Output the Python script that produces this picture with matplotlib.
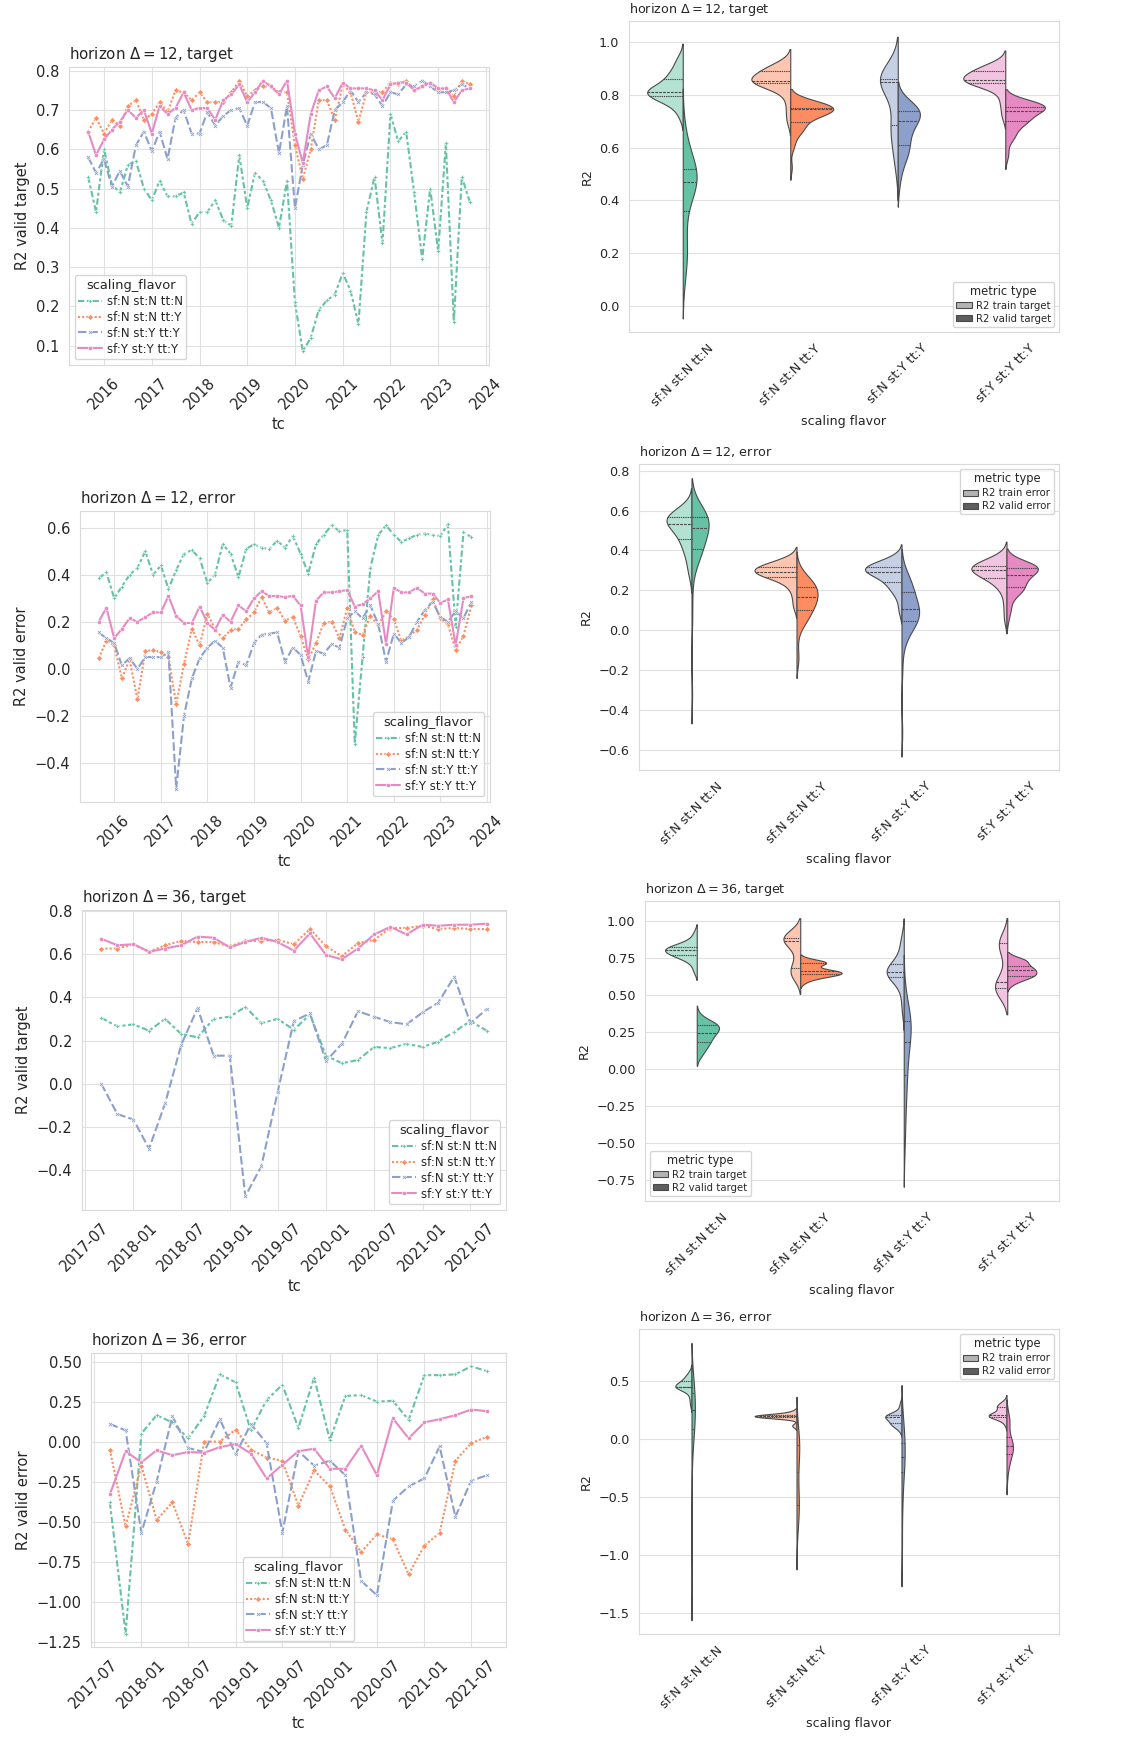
import numpy as np
import pandas as pd
import matplotlib
matplotlib.use("Agg")
import matplotlib.pyplot as plt
import matplotlib.dates as mdates
from matplotlib.patches import Patch
from matplotlib.collections import PolyCollection
import seaborn as sns

sns.set_style("whitegrid", {"grid.color": ".88", "axes.edgecolor": ".85"})

# ---------------------------------------------------------------- data
flavors = ["sf:N st:N tt:N", "sf:N st:N tt:Y", "sf:N st:Y tt:Y", "sf:Y st:Y tt:Y"]

tc_12 = pd.date_range("2015-09-01", periods=49, freq="2MS")
tc_36 = pd.date_range("2017-09-01", periods=25, freq="2MS")

# horizon 12, R2 valid target
v12t_nnn = [0.53, 0.44, 0.60, 0.51, 0.49, 0.56, 0.57, 0.50, 0.47, 0.52, 0.48, 0.48, 0.49,
            0.41, 0.44, 0.44, 0.47, 0.42, 0.405, 0.585, 0.45, 0.54, 0.52, 0.47, 0.40, 0.52,
            0.21, 0.085, 0.12, 0.19, 0.215, 0.23, 0.285, 0.24, 0.155, 0.44, 0.53, 0.36, 0.69,
            0.62, 0.645, 0.49, 0.32, 0.50, 0.34, 0.615, 0.16, 0.53, 0.465]
v12t_nny = [0.645, 0.68, 0.64, 0.675, 0.66, 0.71, 0.725, 0.675, 0.69, 0.72, 0.695, 0.75, 0.745,
            0.725, 0.745, 0.72, 0.72, 0.72, 0.745, 0.775, 0.735, 0.75, 0.76, 0.76, 0.745, 0.745,
            0.61, 0.525, 0.60, 0.725, 0.725, 0.675, 0.765, 0.745, 0.67, 0.745, 0.745, 0.745, 0.77,
            0.765, 0.775, 0.75, 0.76, 0.77, 0.75, 0.755, 0.735, 0.775, 0.765]
v12t_nyy = [0.58, 0.54, 0.575, 0.505, 0.545, 0.505, 0.61, 0.645, 0.595, 0.645, 0.575, 0.68, 0.70,
            0.64, 0.64, 0.695, 0.66, 0.685, 0.70, 0.705, 0.66, 0.72, 0.72, 0.705, 0.59, 0.71,
            0.45, 0.56, 0.64, 0.60, 0.61, 0.70, 0.72, 0.75, 0.72, 0.745, 0.74, 0.71, 0.745,
            0.74, 0.765, 0.76, 0.775, 0.76, 0.745, 0.745, 0.75, 0.765, 0.755]
v12t_yyy = [0.645, 0.585, 0.625, 0.65, 0.67, 0.70, 0.68, 0.70, 0.64, 0.71, 0.69, 0.705, 0.745,
            0.70, 0.705, 0.705, 0.675, 0.725, 0.74, 0.765, 0.72, 0.745, 0.775, 0.76, 0.74, 0.775,
            0.64, 0.565, 0.69, 0.75, 0.76, 0.73, 0.77, 0.755, 0.755, 0.755, 0.75, 0.725, 0.765,
            0.77, 0.77, 0.75, 0.76, 0.77, 0.755, 0.755, 0.72, 0.75, 0.755]

# horizon 12, R2 valid error
v12e_nnn = [0.385, 0.41, 0.30, 0.35, 0.40, 0.43, 0.50, 0.40, 0.44, 0.34, 0.42, 0.49, 0.505,
            0.47, 0.365, 0.40, 0.53, 0.49, 0.39, 0.51, 0.53, 0.515, 0.51, 0.545, 0.515, 0.565,
            0.49, 0.405, 0.53, 0.57, 0.61, 0.585, 0.59, -0.32, 0.05, 0.43, 0.57, 0.61, 0.57,
            0.54, 0.555, 0.57, 0.575, 0.57, 0.565, 0.615, 0.18, 0.58, 0.56]
v12e_nny = [0.045, 0.12, 0.10, -0.04, 0.04, -0.13, 0.075, 0.08, 0.07, 0.05, -0.15, 0.02, 0.17,
            0.10, 0.235, 0.17, 0.13, 0.165, 0.17, 0.21, 0.24, 0.305, 0.24, 0.26, 0.205, 0.22,
            0.14, 0.04, 0.11, 0.195, 0.20, 0.13, 0.26, 0.155, 0.145, 0.225, 0.185, 0.245, 0.21,
            0.12, 0.14, 0.165, 0.23, 0.295, 0.215, 0.19, 0.08, 0.14, 0.27]
v12e_nyy = [0.155, 0.13, 0.11, 0.015, 0.045, 0.0, 0.05, 0.05, 0.05, 0.07, -0.51, -0.20, -0.04,
            0.045, 0.09, 0.12, 0.09, -0.08, 0.03, 0.015, 0.11, 0.145, 0.15, 0.155, 0.03, 0.09,
            0.06, -0.055, 0.075, 0.065, 0.105, 0.09, 0.215, 0.245, 0.215, 0.27, 0.19, 0.03, 0.15,
            0.11, 0.135, 0.20, 0.25, 0.285, 0.22, 0.20, 0.245, 0.215, 0.285]
v12e_yyy = [0.20, 0.26, 0.13, 0.17, 0.215, 0.20, 0.22, 0.24, 0.24, 0.31, 0.225, 0.195, 0.195,
            0.265, 0.195, 0.165, 0.23, 0.20, 0.27, 0.245, 0.30, 0.33, 0.31, 0.31, 0.305, 0.31,
            0.27, 0.05, 0.29, 0.325, 0.325, 0.33, 0.335, 0.265, 0.275, 0.30, 0.33, 0.105, 0.345,
            0.325, 0.325, 0.345, 0.32, 0.32, 0.28, 0.295, 0.10, 0.30, 0.31]

# horizon 36, R2 valid target
v36t_nnn = [0.305, 0.265, 0.275, 0.245, 0.30, 0.23, 0.215, 0.30, 0.31, 0.355, 0.28, 0.30, 0.25,
            0.32, 0.13, 0.095, 0.11, 0.17, 0.165, 0.185, 0.17, 0.195, 0.24, 0.29, 0.245]
v36t_nny = [0.625, 0.625, 0.645, 0.61, 0.64, 0.66, 0.655, 0.655, 0.635, 0.66, 0.66, 0.665, 0.645,
            0.715, 0.635, 0.59, 0.65, 0.665, 0.72, 0.72, 0.73, 0.715, 0.72, 0.715, 0.715]
v36t_nyy = [0.0, -0.14, -0.165, -0.30, -0.09, 0.18, 0.35, 0.13, 0.13, -0.52, -0.38, -0.04, 0.29,
            0.325, 0.105, 0.185, 0.335, 0.31, 0.285, 0.275, 0.33, 0.375, 0.495, 0.28, 0.345]
v36t_yyy = [0.67, 0.64, 0.645, 0.61, 0.625, 0.64, 0.68, 0.675, 0.63, 0.655, 0.675, 0.655, 0.615,
            0.695, 0.595, 0.575, 0.625, 0.69, 0.725, 0.69, 0.735, 0.73, 0.735, 0.735, 0.74]

# horizon 36, R2 valid error
v36e_nnn = [-0.38, -1.20, 0.05, 0.165, 0.12, 0.02, 0.16, 0.42, 0.37, 0.07, 0.26, 0.355, 0.085,
            0.40, 0.01, 0.285, 0.29, 0.25, 0.255, 0.135, 0.415, 0.415, 0.42, 0.47, 0.44]
v36e_nny = [-0.05, -0.53, -0.15, -0.49, -0.38, -0.64, 0.0, 0.0, 0.075, -0.05, -0.10, -0.12, -0.40,
            -0.18, -0.28, -0.55, -0.69, -0.58, -0.61, -0.83, -0.65, -0.57, -0.12, -0.01, 0.03]
v36e_nyy = [0.11, 0.07, -0.57, -0.25, 0.16, -0.04, -0.065, 0.14, -0.08, 0.11, -0.01, -0.57, -0.06,
            -0.15, -0.12, -0.21, -0.87, -0.96, -0.37, -0.28, -0.23, -0.03, -0.47, -0.245, -0.21]
v36e_yyy = [-0.33, -0.06, -0.13, -0.055, -0.085, -0.065, -0.07, -0.035, -0.015, -0.075, -0.23,
            -0.145, -0.06, -0.045, -0.17, -0.17, -0.025, -0.21, 0.145, 0.02, 0.12, 0.14, 0.165,
            0.20, 0.19]

# train-side values (only visible in the violins)
t12t_nnn = [0.72, 0.75, 0.77, 0.78, 0.785, 0.79, 0.795, 0.80, 0.805, 0.81, 0.81, 0.812, 0.812,
            0.815, 0.82, 0.825, 0.83, 0.84, 0.86, 0.865, 0.87, 0.88, 0.90, 0.92, 0.94]
t12t_nny = [0.70, 0.74, 0.78, 0.81, 0.83, 0.84, 0.845, 0.845, 0.848, 0.85, 0.85, 0.85, 0.852,
            0.855, 0.86, 0.865, 0.87, 0.88, 0.89, 0.89, 0.895, 0.90, 0.905, 0.91, 0.92]
t12t_nyy = [0.52, 0.57, 0.60, 0.63, 0.66, 0.68, 0.685, 0.70, 0.74, 0.80, 0.83, 0.84, 0.847,
            0.85, 0.85, 0.852, 0.855, 0.858, 0.86, 0.865, 0.87, 0.875, 0.88, 0.89, 0.90]
t12t_yyy = [0.72, 0.76, 0.79, 0.82, 0.835, 0.84, 0.845, 0.848, 0.85, 0.852, 0.855, 0.856, 0.857,
            0.86, 0.865, 0.87, 0.875, 0.88, 0.89, 0.89, 0.895, 0.90, 0.905, 0.91, 0.92]

t12e_nnn = [0.28, 0.33, 0.37, 0.40, 0.42, 0.44, 0.456, 0.47, 0.49, 0.50, 0.515, 0.525, 0.531,
            0.54, 0.545, 0.55, 0.555, 0.56, 0.566, 0.57, 0.575, 0.58, 0.59, 0.60, 0.62]
t12e_nny = [0.12, 0.17, 0.21, 0.23, 0.25, 0.26, 0.267, 0.275, 0.28, 0.285, 0.288, 0.29, 0.29,
            0.295, 0.30, 0.305, 0.31, 0.315, 0.319, 0.32, 0.325, 0.33, 0.34, 0.35, 0.36]
t12e_nyy = [0.10, 0.16, 0.19, 0.21, 0.225, 0.235, 0.244, 0.26, 0.275, 0.285, 0.29, 0.292, 0.294,
            0.30, 0.305, 0.308, 0.31, 0.313, 0.316, 0.32, 0.325, 0.33, 0.34, 0.35, 0.365]
t12e_yyy = [0.06, 0.13, 0.19, 0.22, 0.24, 0.25, 0.26, 0.27, 0.28, 0.29, 0.295, 0.30, 0.302,
            0.305, 0.31, 0.312, 0.315, 0.318, 0.322, 0.325, 0.33, 0.335, 0.345, 0.355, 0.37]

t36t_nnn = [0.66, 0.70, 0.73, 0.745, 0.755, 0.76, 0.768, 0.775, 0.78, 0.785, 0.79, 0.795, 0.802,
            0.805, 0.81, 0.812, 0.815, 0.82, 0.824, 0.83, 0.835, 0.845, 0.86, 0.88, 0.92]
t36t_nny = [0.62, 0.63, 0.64, 0.645, 0.65, 0.66, 0.68, 0.70, 0.72, 0.76, 0.80, 0.84, 0.867,
            0.87, 0.872, 0.875, 0.878, 0.88, 0.885, 0.887, 0.89, 0.892, 0.895, 0.90, 0.905]
t36t_nyy = [0.38, 0.45, 0.52, 0.56, 0.59, 0.61, 0.622, 0.63, 0.64, 0.645, 0.65, 0.655, 0.658,
            0.66, 0.665, 0.67, 0.68, 0.69, 0.707, 0.72, 0.74, 0.77, 0.81, 0.85, 0.90]
t36t_yyy = [0.52, 0.525, 0.53, 0.535, 0.54, 0.542, 0.545, 0.55, 0.555, 0.56, 0.57, 0.58, 0.59,
            0.62, 0.68, 0.76, 0.80, 0.82, 0.85, 0.85, 0.855, 0.86, 0.86, 0.865, 0.87]

t36e_nnn = [0.30, 0.35, 0.39, 0.42, 0.44, 0.445, 0.45, 0.45, 0.452, 0.453, 0.454, 0.455, 0.455,
            0.46, 0.465, 0.47, 0.48, 0.49, 0.504, 0.51, 0.52, 0.53, 0.54, 0.56, 0.58]
t36e_nny = [0.11, 0.125, 0.18, 0.185, 0.188, 0.19, 0.19, 0.192, 0.194, 0.196, 0.197, 0.198, 0.20,
            0.201, 0.202, 0.203, 0.205, 0.207, 0.21, 0.211, 0.213, 0.215, 0.22, 0.23, 0.245]
t36e_nyy = [0.08, 0.10, 0.115, 0.125, 0.13, 0.135, 0.138, 0.145, 0.155, 0.165, 0.175, 0.185, 0.19,
            0.192, 0.195, 0.198, 0.20, 0.203, 0.207, 0.21, 0.215, 0.22, 0.24, 0.27, 0.31]
t36e_yyy = [0.13, 0.16, 0.18, 0.19, 0.192, 0.194, 0.196, 0.20, 0.203, 0.206, 0.208, 0.21, 0.213,
            0.216, 0.22, 0.23, 0.25, 0.265, 0.276, 0.28, 0.285, 0.29, 0.30, 0.31, 0.33]

# ---------------------------------------------------------------- styles
colors = ["#66c2a5", "#fc8d62", "#8da0cb", "#e78ac3"]
light = [tuple(0.5 + 0.5 * c for c in matplotlib.colors.to_rgb(h)) for h in colors]
dash_styles = [(3, 1.25, 1.5, 1.25), (1, 1), (4, 1.5), None]
marker_styles = ["P", "D", "X", "o"]

W, H = 1133, 1745
fig = plt.figure(figsize=(W / 100, H / 100), dpi=100)


def rect(l, t, r, b):
    return [l / W, 1 - b / H, (r - l) / W, (b - t) / H]


def line_panel(box, dates, series, ylabel, title, loc, yearly):
    ax = fig.add_axes(rect(*box))
    for name, vals, c, d, m in zip(flavors, series, colors, dash_styles, marker_styles):
        ln, = ax.plot(dates, vals, color=c, lw=1.5, marker=m, ms=3,
                      mec="white", mew=0.4, label=name)
        if d is not None:
            ln.set_dashes(d)
    if yearly:
        ax.xaxis.set_major_locator(mdates.YearLocator())
        ax.xaxis.set_major_formatter(mdates.DateFormatter("%Y"))
    else:
        ax.xaxis.set_major_locator(mdates.MonthLocator(bymonth=[1, 7]))
        ax.xaxis.set_major_formatter(mdates.DateFormatter("%Y-%m"))
    ax.tick_params(axis="x", labelrotation=45, labelsize=10.5)
    ax.tick_params(axis="y", labelsize=10.5)
    ax.set_xlabel("tc", fontsize=10.5)
    ax.set_ylabel(ylabel, fontsize=10.5)
    ax.set_title(title, loc="left", fontsize=10.8)
    ax.legend(title="scaling_flavor", loc=loc, fontsize=8.5, title_fontsize=9.4,
              borderpad=0.3, labelspacing=0.25, handletextpad=0.4)
    return ax


def violin_panel(box, train, valid, names, ylim, title, loc):
    rows = []
    for f, tr, va in zip(flavors, train, valid):
        rows += [(f, names[0], v) for v in tr]
        rows += [(f, names[1], v) for v in va]
    df = pd.DataFrame(rows, columns=["scaling flavor", "metric type", "R2"])
    ax = fig.add_axes(rect(*box))
    sns.violinplot(data=df, x="scaling flavor", y="R2", hue="metric type",
                   order=flavors, hue_order=names, split=True, inner="quart",
                   density_norm="area", common_norm=True,
                   palette=["#b4b4b4", "#5e5e5e"], linecolor="#4a4a4a",
                   linewidth=0.8, ax=ax)
    # train half gets a light tint, valid half the full flavor colour
    for coll in ax.collections:
        if not isinstance(coll, PolyCollection):
            continue
        xs = coll.get_paths()[0].vertices[:, 0]
        xm = xs.mean()
        k = int(round(xm))
        coll.set_facecolor(light[k] if xm < k else colors[k])
    if ax.get_legend() is not None:
        ax.get_legend().remove()
    handles = [Patch(facecolor="#b4b4b4", edgecolor="#4a4a4a", lw=0.8),
               Patch(facecolor="#5e5e5e", edgecolor="#4a4a4a", lw=0.8)]
    ax.legend(handles, names, title="metric type", loc=loc, fontsize=7.3,
              title_fontsize=8.3, handlelength=1.5, handleheight=0.55,
              borderpad=0.3, labelspacing=0.3, handletextpad=0.4)
    ax.set_ylim(*ylim)
    ax.set_xlim(-0.5, 3.5)
    ax.tick_params(axis="x", labelrotation=45, labelsize=9.2)
    ax.tick_params(axis="y", labelsize=9.2)
    ax.set_xlabel("scaling flavor", fontsize=9.1)
    ax.set_ylabel("R2", fontsize=9.1)
    ax.set_title(title, loc="left", fontsize=9.2)
    return ax


line_panel((69, 67, 489, 365), tc_12, [v12t_nnn, v12t_nny, v12t_nyy, v12t_yyy],
           "R2 valid target", r"horizon $\Delta = 12$, target", "lower left", True)
line_panel((80, 511, 490, 802), tc_12, [v12e_nnn, v12e_nny, v12e_nyy, v12e_yyy],
           "R2 valid error", r"horizon $\Delta = 12$, error", "lower right", True)
line_panel((82, 910, 506, 1210), tc_36, [v36t_nnn, v36t_nny, v36t_nyy, v36t_yyy],
           "R2 valid target", r"horizon $\Delta = 36$, target", "lower right", False)
line_panel((91, 1353, 506, 1647), tc_36, [v36e_nnn, v36e_nny, v36e_nyy, v36e_yyy],
           "R2 valid error", r"horizon $\Delta = 36$, error", "lower center", False)

violin_panel((629, 21, 1059, 332), [t12t_nnn, t12t_nny, t12t_nyy, t12t_yyy],
             [v12t_nnn, v12t_nny, v12t_nyy, v12t_yyy],
             ["R2 train target", "R2 valid target"], (-0.10, 1.08),
             r"horizon $\Delta = 12$, target", "lower right")
violin_panel((639, 464, 1059, 770), [t12e_nnn, t12e_nny, t12e_nyy, t12e_yyy],
             [v12e_nnn, v12e_nny, v12e_nyy, v12e_yyy],
             ["R2 train error", "R2 valid error"], (-0.70, 0.833),
             r"horizon $\Delta = 12$, error", "upper right")
violin_panel((645, 901, 1059, 1201), [t36t_nnn, t36t_nny, t36t_nyy, t36t_yyy],
             [v36t_nnn, v36t_nny, v36t_nyy, v36t_yyy],
             ["R2 train target", "R2 valid target"], (-0.892, 1.135),
             r"horizon $\Delta = 36$, target", "lower left")
violin_panel((639, 1329, 1059, 1634), [t36e_nnn, t36e_nny, t36e_nyy, t36e_yyy],
             [v36e_nnn, v36e_nny, v36e_nyy, v36e_yyy],
             ["R2 train error", "R2 valid error"], (-1.68, 0.952),
             r"horizon $\Delta = 36$, error", "upper right")

fig.savefig("out.png", dpi=100)
